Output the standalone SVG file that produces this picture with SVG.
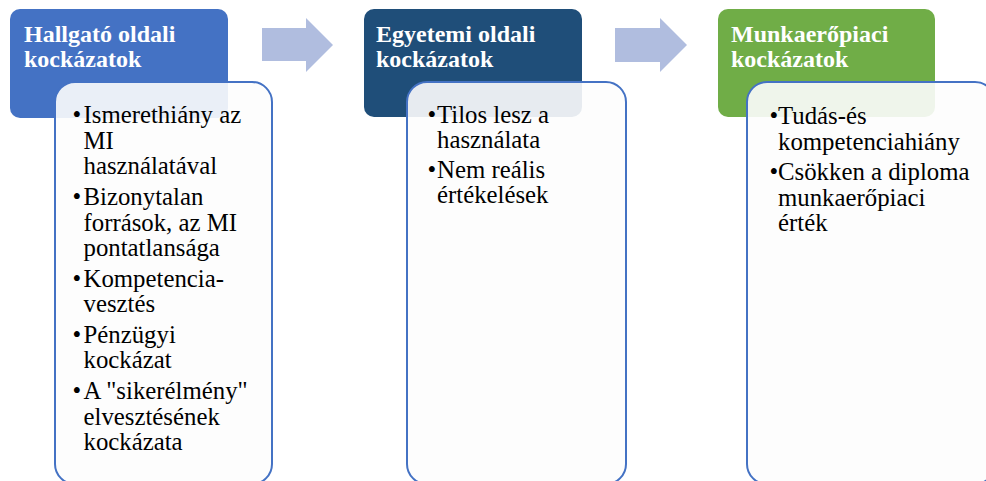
<svg xmlns="http://www.w3.org/2000/svg" width="986" height="481" viewBox="0 0 986 481" font-family="Liberation Serif, serif">
<style>
.hdr{stroke:none}
.body{fill:#fdfdfd;fill-opacity:0.9;stroke:#4472c4;stroke-width:2}
.ht{font-weight:bold;font-size:24px;fill:#ffffff}
.bt{font-size:24.8px;fill:#000000}
.arrow{fill:#b0bddf;stroke:none}
</style>
<rect width="986" height="481" fill="#ffffff"/>
<g id="connectors">
<polygon class="arrow" points="262,28 306,28 306,18 333,45 306,72 306,61 262,61"/>
<polygon class="arrow" points="615,28 660,28 660,18 687,45 660,72 660,62 615,62"/>
</g>
<g id="node1">
<rect class="hdr" x="10" y="9" width="218" height="109" rx="10" fill="#4472c4"/>
<text class="ht" font-family="Liberation Serif, serif"><tspan x="24" y="42">Hallgató oldali</tspan><tspan x="24" y="67">kockázatok</tspan></text>
<rect class="body" x="55" y="82" width="217" height="402" rx="20"/>
<text class="bt" font-family="Liberation Serif, serif">
<tspan x="72.5" y="123">•</tspan><tspan x="83.5" y="123">Ismerethiány az</tspan>
<tspan x="83.5" y="148.7">MI</tspan>
<tspan x="83.5" y="174.4">használatával</tspan>
<tspan x="72.5" y="204.8">•</tspan><tspan x="83.5" y="204.8">Bizonytalan</tspan>
<tspan x="83.5" y="230.5">források, az MI</tspan>
<tspan x="83.5" y="256.2">pontatlansága</tspan>
<tspan x="72.5" y="286.6">•</tspan><tspan x="83.5" y="286.6">Kompetencia-</tspan>
<tspan x="83.5" y="312.3">vesztés</tspan>
<tspan x="72.5" y="342.7">•</tspan><tspan x="83.5" y="342.7">Pénzügyi</tspan>
<tspan x="83.5" y="368.4">kockázat</tspan>
<tspan x="72.5" y="398.8">•</tspan><tspan x="83.5" y="398.8">A "sikerélmény"</tspan>
<tspan x="83.5" y="424.5">elvesztésének</tspan>
<tspan x="83.5" y="450.2">kockázata</tspan>
</text>
</g>
<g id="node2">
<rect class="hdr" x="364" y="9" width="218" height="108" rx="10" fill="#1f4e79"/>
<text class="ht" font-family="Liberation Serif, serif"><tspan x="376" y="42">Egyetemi oldali</tspan><tspan x="376" y="67">kockázatok</tspan></text>
<rect class="body" x="407" y="82" width="219" height="402" rx="20"/>
<text class="bt" font-family="Liberation Serif, serif">
<tspan x="427.5" y="123">•</tspan><tspan x="437" y="123">Tilos lesz a</tspan>
<tspan x="437" y="148">használata</tspan>
<tspan x="427.5" y="178">•</tspan><tspan x="437" y="178">Nem reális</tspan>
<tspan x="437" y="203">értékelések</tspan>
</text>
</g>
<g id="node3">
<rect class="hdr" x="718" y="9" width="217" height="108" rx="10" fill="#70ad47"/>
<text class="ht" font-family="Liberation Serif, serif"><tspan x="731" y="42">Munkaerőpiaci</tspan><tspan x="731" y="67">kockázatok</tspan></text>
<rect class="body" x="747" y="82" width="248" height="402" rx="20"/>
<text class="bt" font-family="Liberation Serif, serif">
<tspan x="769.5" y="124">•</tspan><tspan x="778" y="124">Tudás-és</tspan>
<tspan x="778" y="149.5">kompetenciahiány</tspan>
<tspan x="769.5" y="180">•</tspan><tspan x="778" y="180">Csökken a diploma</tspan>
<tspan x="778" y="205.5">munkaerőpiaci</tspan>
<tspan x="778" y="231">érték</tspan>
</text>
</g>
</svg>
